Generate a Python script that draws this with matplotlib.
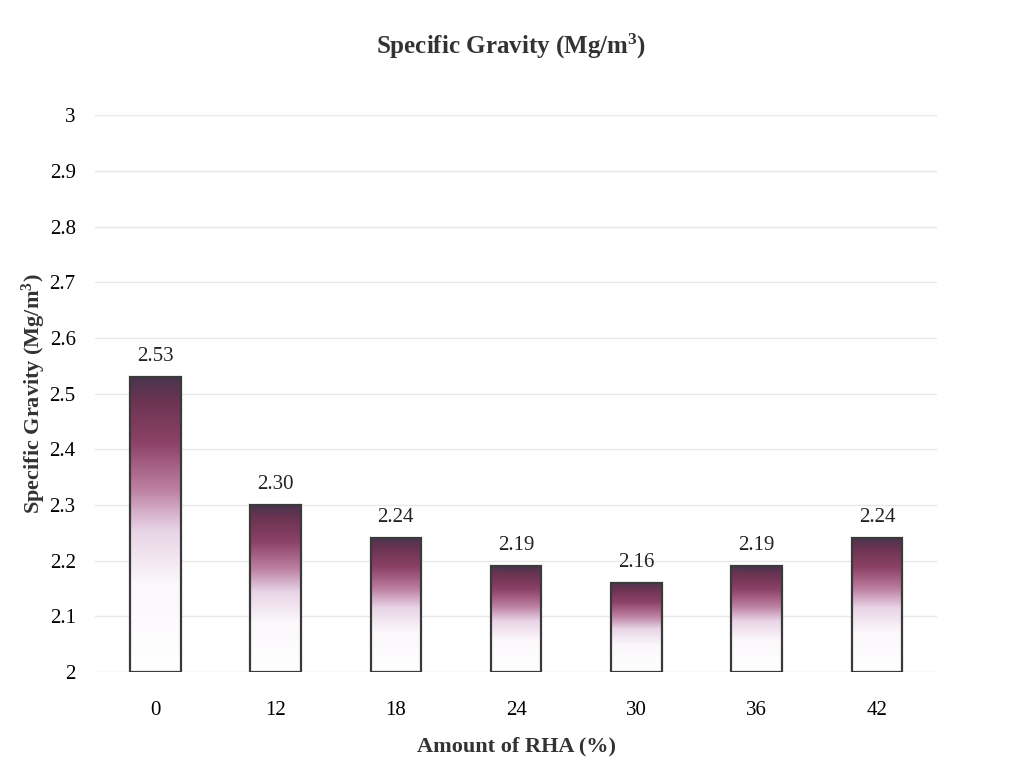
import numpy as np
import matplotlib.pyplot as plt
from matplotlib.colors import LinearSegmentedColormap

categories = ["0", "12", "18", "24", "30", "36", "42"]
values = [2.53, 2.30, 2.24, 2.19, 2.16, 2.19, 2.24]
labels = ["2.53", "2.30", "2.24", "2.19", "2.16", "2.19", "2.24"]
yticks = [2, 2.1, 2.2, 2.3, 2.4, 2.5, 2.6, 2.7, 2.8, 2.9, 3]
ytick_labels = ["2", "2.1", "2.2", "2.3", "2.4", "2.5", "2.6", "2.7", "2.8", "2.9", "3"]

plt.rcParams['font.family'] = ['Liberation Serif', 'DejaVu Serif']
plt.rcParams['mathtext.default'] = 'regular'

fig = plt.figure(figsize=(10.23, 7.74), dpi=100)
ax = fig.add_axes([0.093, 0.132, 0.823, 0.719])

cmap = LinearSegmentedColormap.from_list("grad", [
    (0.0, "#ffffff"), (0.3, "#fbf7fb"), (0.48, "#e8d4e6"), (0.62, "#bd80a2"),
    (0.78, "#8c4266"), (0.92, "#6c3452"), (1.0, "#4a3450")])

x = np.arange(len(categories))
width = 0.42
ymin = 2.0
ax.set_xlim(-0.5, len(categories) - 0.5)
ax.set_ylim(2, 3)

grad = np.linspace(0, 1, 256).reshape(-1, 1)
for xi, v in zip(x, values):
    bar = ax.bar(xi, v - ymin, width, bottom=ymin, facecolor='none',
                 edgecolor='#3a3a3a', linewidth=1.6, zorder=3)[0]
    im = ax.imshow(grad, cmap=cmap, origin='lower', aspect='auto',
                   extent=(xi - width / 2, xi + width / 2, ymin, v), zorder=2)
    im.set_clip_path(bar)

for xi, v, lab in zip(x, values, labels):
    ax.text(xi, v + 0.02, lab, ha='center', va='bottom', fontsize=15, color='#222222')

ax.set_xticks(x)
ax.set_xticklabels(categories, fontsize=15)
ax.set_yticks(yticks)
ax.set_yticklabels(ytick_labels, fontsize=15)
ax.tick_params(axis='x', length=0, pad=21)
ax.tick_params(axis='y', length=0, pad=14)
ax.grid(axis='y', color='#e8e8e8', linewidth=1)
ax.set_axisbelow(True)
for s in ax.spines.values():
    s.set_visible(False)

ax.set_xlabel("Amount of RHA (%)", fontsize=16, fontweight='bold', color='#333333', labelpad=12)
ax.set_ylabel("Specific Gravity (Mg/m$^3$)", fontsize=16, fontweight='bold', color='#333333', labelpad=1)
fig.text(0.5, 0.94, "Specific Gravity (Mg/m$^3$)", ha='center', va='center',
         fontsize=18, fontweight='bold', color='#333333')

fig.savefig("out.png", dpi=100)
